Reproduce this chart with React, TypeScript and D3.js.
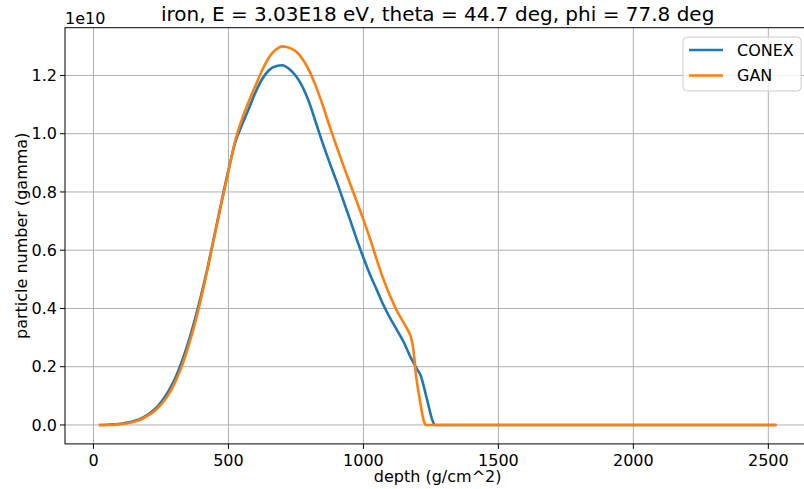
import React from "react";
import * as d3 from "d3";

const conexDepth = [20, 50, 100, 125, 150, 175, 200, 225, 250, 275, 300, 325, 350, 375, 400, 425, 450, 475, 500, 525, 550, 575, 600, 625, 650, 675, 700, 725, 750, 775, 800, 825, 850, 875, 900, 925, 950, 975, 1000, 1025, 1050, 1075, 1100, 1125, 1150, 1175, 1200, 1212, 1235, 1258, 1265, 1500, 2000, 2530];
const conexValue = [0, 0.001, 0.004, 0.008, 0.014, 0.022, 0.035, 0.052, 0.078, 0.112, 0.155, 0.212, 0.28, 0.36, 0.45, 0.55, 0.66, 0.77, 0.875, 0.97, 1.03, 1.085, 1.142, 1.188, 1.218, 1.232, 1.235, 1.222, 1.198, 1.16, 1.105, 1.035, 0.965, 0.9, 0.838, 0.772, 0.706, 0.638, 0.574, 0.515, 0.463, 0.41, 0.365, 0.325, 0.283, 0.232, 0.19, 0.17, 0.09, 0.01, 0, 0, 0, 0];

const ganDepth = [20, 50, 100, 125, 150, 175, 200, 225, 250, 275, 300, 325, 350, 375, 400, 425, 450, 475, 500, 525, 550, 575, 600, 625, 650, 675, 700, 725, 750, 775, 800, 825, 850, 875, 900, 925, 950, 975, 1000, 1025, 1050, 1075, 1100, 1125, 1150, 1165, 1175, 1185, 1195, 1210, 1225, 1232, 1500, 2000, 2530];
const ganValue = [0, 0, 0.003, 0.006, 0.011, 0.019, 0.031, 0.047, 0.07, 0.1, 0.142, 0.196, 0.265, 0.345, 0.44, 0.545, 0.655, 0.765, 0.87, 0.975, 1.05, 1.11, 1.165, 1.218, 1.262, 1.288, 1.3, 1.295, 1.283, 1.256, 1.215, 1.16, 1.096, 1.025, 0.958, 0.893, 0.83, 0.768, 0.705, 0.638, 0.566, 0.498, 0.44, 0.39, 0.35, 0.325, 0.305, 0.26, 0.17, 0.08, 0.01, 0, 0, 0, 0];

const xTicks = [0, 500, 1000, 1500, 2000, 2500];
const yTicks = [0, 0.2, 0.4, 0.6, 0.8, 1.0, 1.2];

const seriesNames = ["CONEX", "GAN"];
const seriesColors = ["#1f77b4", "#ff7f0e"];

const W = 804;
const H = 489;
const FONT = "DejaVu Sans, sans-serif";

export default function App() {
  const x = d3.scaleLinear().domain([-105.5, 2655.5]).range([65, 810.3]);
  const y = d3.scaleLinear().domain([-0.065, 1.364]).range([443.9, 27.7]);
  const left = x.range()[0];
  const right = x.range()[1];
  const top = y.range()[1];
  const bottom = y.range()[0];

  const line = d3
    .line<[number, number]>()
    .x((d) => x(d[0]))
    .y((d) => y(d[1]))
    .curve(d3.curveMonotoneX);

  const conexPts = conexDepth.map((d, i) => [d, conexValue[i]] as [number, number]);
  const ganPts = ganDepth.map((d, i) => [d, ganValue[i]] as [number, number]);

  const legX = 683;
  const legY = 37;

  return (
    <svg
      width={W}
      height={H}
      style={{ position: "absolute", left: 0, top: 0, background: "#fff" }}
      fontFamily={FONT}
    >
      <rect x={0} y={0} width={W} height={H} fill="#fff" />
      <defs>
        <clipPath id="plot">
          <rect x={left} y={top} width={right - left} height={bottom - top} />
        </clipPath>
      </defs>
      {xTicks.map((t) => (
        <line key={"gx" + t} x1={x(t)} x2={x(t)} y1={top} y2={bottom} stroke="#b0b0b0" strokeWidth={1} />
      ))}
      {yTicks.map((t) => (
        <line key={"gy" + t} x1={left} x2={right} y1={y(t)} y2={y(t)} stroke="#b0b0b0" strokeWidth={1} />
      ))}
      <g clipPath="url(#plot)">
        <path d={line(conexPts) || ""} fill="none" stroke={seriesColors[0]} strokeWidth={2.6} strokeLinejoin="round" />
        <path d={line(ganPts) || ""} fill="none" stroke={seriesColors[1]} strokeWidth={2.6} strokeLinejoin="round" />
      </g>
      <rect x={left} y={top} width={right - left} height={bottom - top} fill="none" stroke="#000" strokeWidth={1} />
      {xTicks.map((t) => (
        <g key={"tx" + t}>
          <line x1={x(t)} x2={x(t)} y1={bottom} y2={bottom + 5} stroke="#000" strokeWidth={1} />
          <text x={x(t)} y={bottom + 22} textAnchor="middle" fontSize={16} fill="#000">
            {d3.format("d")(t)}
          </text>
        </g>
      ))}
      {yTicks.map((t) => (
        <g key={"ty" + t}>
          <line x1={left - 5} x2={left} y1={y(t)} y2={y(t)} stroke="#000" strokeWidth={1} />
          <text x={left - 8} y={y(t)} dy="0.35em" textAnchor="end" fontSize={16} fill="#000">
            {d3.format(".1f")(t)}
          </text>
        </g>
      ))}
      <text x={left} y={24} fontSize={16} fill="#000">1e10</text>
      <text x={(left + right) / 2} y={21} textAnchor="middle" fontSize={20} fill="#000">
        iron, E = 3.03E18 eV, theta = 44.7 deg, phi = 77.8 deg
      </text>
      <text x={(left + right) / 2} y={482} textAnchor="middle" fontSize={16} fill="#000">
        depth (g/cm^2)
      </text>
      <text
        transform={`translate(27,${(top + bottom) / 2}) rotate(-90)`}
        textAnchor="middle"
        fontSize={16}
        fill="#000"
      >
        particle number (gamma)
      </text>
      <rect x={legX} y={legY} width={118} height={54} rx={4} fill="#fff" fillOpacity={0.8} stroke="#cccccc" strokeWidth={1} />
      {seriesNames.map((n, i) => (
        <g key={n}>
          <line x1={legX + 6} x2={legX + 40} y1={legY + 13 + i * 25.5} y2={legY + 13 + i * 25.5} stroke={seriesColors[i]} strokeWidth={2.6} />
          <text x={legX + 54} y={legY + 13 + i * 25.5} dy="0.35em" fontSize={16} fill="#000">
            {n}
          </text>
        </g>
      ))}
    </svg>
  );
}
